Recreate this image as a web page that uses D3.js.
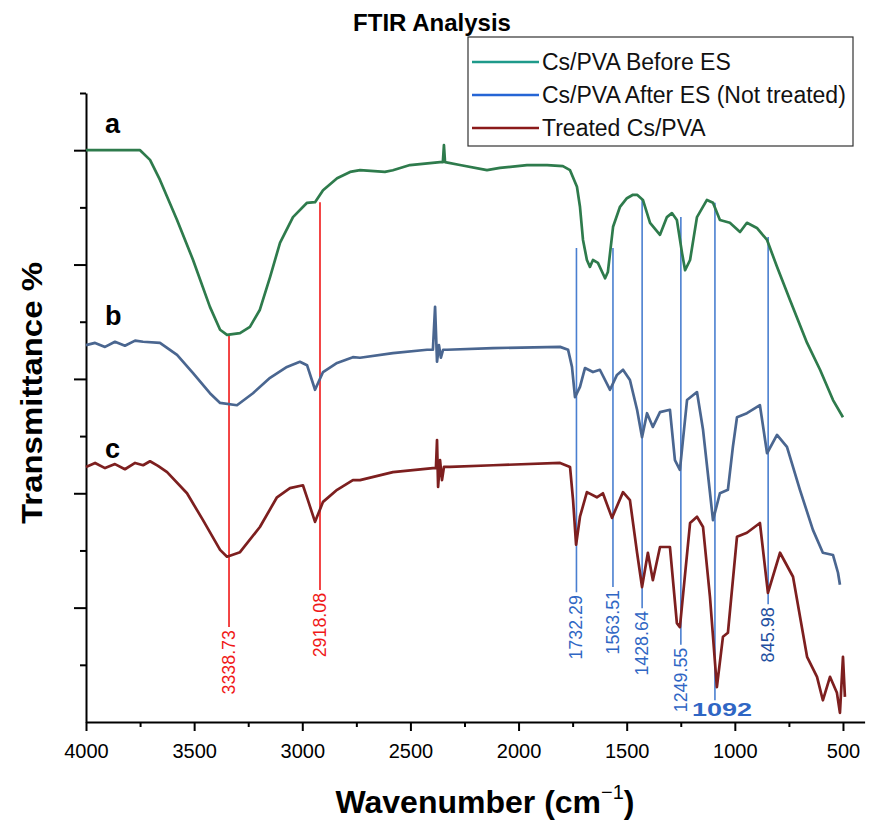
<!DOCTYPE html>
<html>
<head>
<meta charset="utf-8">
<script src="https://cdn.jsdelivr.net/npm/d3@7"></script>
<style>
  body { margin: 0; background: #fff; }
  text { font-family: "Liberation Sans", Arial, sans-serif; }
</style>
</head>
<body>
<div id="chart"></div>
<script>
// spectra as [wavenumber, transmittance] (arbitrary offset units)
const curveA = [
  [4000, 100.0], [3750, 100.0], [3704, 98.3], [3658, 94.8], [3579, 87.8], [3505, 80.8],
  [3427, 72.6], [3380, 68.6], [3348, 67.7], [3288, 68.0], [3242, 69.1], [3196, 72.1],
  [3149, 77.8], [3103, 83.8], [3043, 88.3], [2978, 90.8], [2941, 90.9], [2904, 93.0],
  [2839, 95.1], [2779, 96.2], [2733, 96.5], [2618, 96.2], [2581, 96.5], [2502, 97.4],
  [2363, 97.9], [2350, 97.9], [2345, 100.9], [2340, 97.9], [2271, 97.4], [2146, 96.5],
  [2086, 96.9], [1961, 97.4], [1868, 97.4], [1795, 97.2], [1762, 96.5], [1730, 93.6],
  [1716, 90.1], [1702, 84.3], [1684, 80.8], [1670, 79.6], [1656, 80.8], [1633, 80.3],
  [1600, 77.6], [1587, 78.7], [1563, 86.6], [1531, 90.1], [1499, 91.6], [1471, 92.2],
  [1452, 92.2], [1425, 91.3], [1392, 87.3], [1346, 85.2], [1314, 88.3], [1291, 89.0],
  [1268, 87.8], [1244, 82.0], [1230, 79.0], [1207, 80.8], [1175, 88.3], [1129, 91.3],
  [1101, 90.8], [1069, 87.8], [1023, 87.3], [976, 85.7], [944, 87.3], [898, 86.4],
  [851, 84.3], [805, 79.6], [745, 73.8], [666, 66.3], [606, 61.6], [546, 56.3], [500, 53.3]
];

const curveB = [
  [4000, 65.9], [3958, 66.3], [3912, 65.6], [3866, 66.5], [3820, 65.8], [3773, 66.7],
  [3736, 66.5], [3658, 66.3], [3579, 64.2], [3505, 61.0], [3427, 57.5], [3380, 55.8],
  [3302, 55.4], [3228, 57.5], [3149, 60.2], [3071, 62.1], [3011, 63.0], [2978, 62.4],
  [2941, 58.1], [2904, 61.2], [2839, 62.8], [2766, 63.8], [2733, 63.7], [2581, 64.5],
  [2423, 65.1], [2396, 65.1], [2386, 72.6], [2377, 63.0], [2368, 65.9], [2359, 63.7],
  [2349, 65.1], [2331, 65.1], [2118, 65.4], [1808, 65.6], [1771, 65.1], [1753, 62.1],
  [1739, 56.8], [1716, 58.6], [1693, 61.9], [1656, 61.2], [1624, 61.6], [1577, 58.1],
  [1545, 60.7], [1517, 61.6], [1485, 59.8], [1452, 54.6], [1429, 49.8], [1406, 54.0],
  [1379, 51.6], [1346, 54.2], [1300, 54.6], [1277, 45.8], [1254, 44.1], [1221, 56.3],
  [1175, 57.7], [1147, 51.1], [1101, 35.3], [1069, 40.0], [1032, 40.6], [1009, 48.1],
  [990, 53.3], [944, 54.0], [884, 55.4], [851, 47.0], [805, 50.2], [759, 48.1],
  [699, 40.6], [639, 33.6], [593, 29.6], [546, 29.2], [523, 26.1], [514, 24.0]
];

const curveC = [
  [4000, 44.6], [3958, 45.3], [3912, 44.4], [3866, 45.1], [3820, 44.2], [3773, 45.3],
  [3736, 44.9], [3704, 45.6], [3667, 44.8], [3625, 43.7], [3533, 40.0], [3459, 35.3],
  [3380, 30.1], [3348, 28.9], [3288, 29.7], [3196, 34.1], [3117, 39.3], [3057, 40.9],
  [2997, 41.4], [2974, 38.8], [2941, 35.0], [2904, 38.5], [2839, 40.6], [2766, 42.3],
  [2733, 42.3], [2581, 43.7], [2396, 44.4], [2382, 44.4], [2377, 49.3], [2372, 41.1],
  [2363, 45.8], [2354, 42.3], [2345, 44.6], [2317, 44.6], [2118, 44.9], [1808, 45.3],
  [1762, 44.6], [1748, 38.8], [1734, 31.0], [1716, 35.9], [1684, 40.2], [1638, 39.3],
  [1610, 40.0], [1568, 35.7], [1517, 40.2], [1485, 38.8], [1452, 29.6], [1429, 23.6],
  [1402, 29.6], [1379, 24.8], [1346, 30.6], [1300, 30.6], [1268, 17.3], [1254, 16.6],
  [1207, 34.8], [1175, 35.9], [1147, 34.1], [1115, 21.9], [1083, 6.1], [1055, 14.9],
  [1032, 15.6], [990, 32.4], [944, 33.1], [884, 34.8], [847, 22.6], [791, 29.6],
  [731, 25.4], [666, 11.4], [620, 7.9], [593, 3.8], [560, 7.9], [528, 5.1],
  [514, 1.6], [500, 11.4], [491, 4.4]
];

const seriesNames = ['Cs/PVA Before ES', 'Cs/PVA After ES (Not treated)', 'Treated Cs/PVA'];
const curveLetters = ['a', 'b', 'c'];

const xTickValues = [4000, 3500, 3000, 2500, 2000, 1500, 1000, 500];
const xMinorTicks = [3750, 3250, 2750, 2250, 1750, 1250, 750];
const yMajorTicks = [20, 40, 60, 80, 100];
const yMinorTicks = [10, 30, 50, 70, 90, 110];

// peak markers: wavenumber, line top, line bottom (transmittance units)
const redPeaks = [3338.73, 2918.08];
const redPeakTop = [67.7, 90.9];
const redPeakBottom = [16.6, 23.1];
const bluePeaks = [1732.29, 1563.51, 1428.64, 1249.55, 1092, 845.98];
const bluePeakTop = [82.9, 82.9, 91.6, 88.3, 90.8, 84.8];
const bluePeakBottom = [22.7, 23.6, 19.9, 13.5, 3.8, 20.6];

const width = 871;
const height = 830;

const svg = d3.select('#chart')
  .append('svg')
  .attr('width', width)
  .attr('height', height)
  .style('background', '#fff');

const x = d3.scaleLinear().domain([4000, 400]).range([86, 864.6]);
const y = d3.scaleLinear().domain([0, 110]).range([722, 93]);

// axes
const xAxis = svg.append('g')
  .attr('transform', `translate(0,${y(0)})`)
  .call(d3.axisBottom(x).tickValues(xTickValues).tickSize(9).tickSizeOuter(0).tickPadding(13).tickFormat(d3.format('d')));
xAxis.select('.domain').attr('stroke', '#000').attr('stroke-width', 2);
xAxis.selectAll('.tick line').attr('stroke', '#000').attr('stroke-width', 2);
xAxis.selectAll('.tick text')
  .attr('font-size', '20px')
  .attr('font-family', '"Liberation Sans", Arial, sans-serif')
  .attr('fill', '#000');

svg.append('g')
  .attr('transform', `translate(0,${y(0)})`)
  .call(d3.axisBottom(x).tickValues(xMinorTicks).tickSize(5).tickFormat(''))
  .call((g) => g.select('.domain').remove())
  .selectAll('.tick line').attr('stroke', '#000').attr('stroke-width', 2);

const yAxis = svg.append('g')
  .attr('transform', `translate(${x(4000)},0)`)
  .call(d3.axisLeft(y).tickValues(yMajorTicks).tickSize(12).tickSizeOuter(0).tickFormat(''));
yAxis.select('.domain').attr('stroke', '#000').attr('stroke-width', 2);
yAxis.selectAll('.tick line').attr('stroke', '#000').attr('stroke-width', 2);

svg.append('g')
  .attr('transform', `translate(${x(4000)},0)`)
  .call(d3.axisLeft(y).tickValues(yMinorTicks).tickSize(6).tickFormat(''))
  .call((g) => g.select('.domain').remove())
  .selectAll('.tick line').attr('stroke', '#000').attr('stroke-width', 2);

// peak marker lines
svg.selectAll('line.red-peak')
  .data(redPeaks)
  .enter()
  .append('line')
  .attr('class', 'red-peak')
  .attr('x1', (d) => x(d))
  .attr('x2', (d) => x(d))
  .attr('y1', (d, i) => y(redPeakTop[i]))
  .attr('y2', (d, i) => y(redPeakBottom[i]))
  .attr('stroke', '#f01818')
  .attr('stroke-width', 1.6);

svg.selectAll('line.blue-peak')
  .data(bluePeaks)
  .enter()
  .append('line')
  .attr('class', 'blue-peak')
  .attr('x1', (d) => x(d))
  .attr('x2', (d) => x(d))
  .attr('y1', (d, i) => y(bluePeakTop[i]))
  .attr('y2', (d, i) => y(bluePeakBottom[i]))
  .attr('stroke', '#4a7fd0')
  .attr('stroke-width', 1.6);

// spectra
const line = d3.line()
  .x((d) => x(d[0]))
  .y((d) => y(d[1]));

const curveColors = ['#2e7b4c', '#4a6690', '#7d1f1f'];
[curveA, curveB, curveC].forEach((data, i) => {
  svg.append('path')
    .datum(data)
    .attr('fill', 'none')
    .attr('stroke', curveColors[i])
    .attr('stroke-width', 2.7)
    .attr('stroke-linejoin', 'round')
    .attr('d', line);
});

// peak labels (rotated)
const addPeakLabel = (value, bottom, color) => {
  const txt = d3.format('.2f')(value);
  svg.append('text')
    .attr('transform', `translate(${x(value)},${y(bottom) + 3}) rotate(-90)`)
    .attr('text-anchor', 'end')
    .attr('dominant-baseline', 'central')
    .attr('font-size', '18px')
    .attr('textLength', txt.length * 9.2)
    .attr('lengthAdjust', 'spacingAndGlyphs')
    .attr('fill', color)
    .text(txt);
};
redPeaks.forEach((d, i) => addPeakLabel(d, redPeakBottom[i], '#f01818'));
bluePeaks.forEach((d, i) => {
  if (d === 1092) return;
  addPeakLabel(d, bluePeakBottom[i], i === bluePeaks.length - 1 ? '#1f4fa0' : '#2f66c4');
});

svg.append('text')
  .attr('x', x(1092) - 23)
  .attr('y', y(bluePeakBottom[4]) + 16)
  .attr('font-family', '"DejaVu Serif", "Liberation Serif", serif')
  .attr('font-weight', 'bold')
  .attr('font-size', '18px')
  .attr('textLength', 60)
  .attr('lengthAdjust', 'spacingAndGlyphs')
  .attr('fill', '#2f66c4')
  .text('1092');

// curve letters
const letterY = [103.0, 69.4, 46.2];
curveLetters.forEach((d, i) => {
  svg.append('text')
    .attr('x', 105)
    .attr('y', y(letterY[i]))
    .attr('font-size', '27px')
    .attr('font-weight', 'bold')
    .attr('fill', '#000')
    .text(d);
});

// title
svg.append('text')
  .attr('x', 432)
  .attr('y', 31)
  .attr('text-anchor', 'middle')
  .attr('font-size', '24px')
  .attr('font-weight', 'bold')
  .text('FTIR Analysis');

// axis titles
svg.append('text')
  .attr('transform', 'translate(42,393) rotate(-90)')
  .attr('text-anchor', 'middle')
  .attr('font-size', '30px')
  .attr('font-weight', 'bold')
  .attr('textLength', 262)
  .attr('lengthAdjust', 'spacingAndGlyphs')
  .text('Transmittance %');

const xTitle = svg.append('text')
  .attr('x', 485)
  .attr('y', 813)
  .attr('text-anchor', 'middle')
  .attr('font-size', '32px')
  .attr('font-weight', 'bold');
xTitle.append('tspan').text('Wavenumber (cm');
xTitle.append('tspan').attr('font-size', '20px').attr('font-weight', 'normal').attr('dy', -14).text('\u22121');
xTitle.append('tspan').attr('dy', 14).text(')');

// legend
const legend = svg.append('g').attr('transform', 'translate(468,37)');
legend.append('rect')
  .attr('width', 385)
  .attr('height', 109)
  .attr('fill', '#fff')
  .attr('stroke', '#333')
  .attr('stroke-width', 1.2);

const legendColors = ['#1e9a8a', '#2565d5', '#8b1a1a'];
seriesNames.forEach((name, i) => {
  const row = legend.append('g').attr('transform', `translate(0,${25 + i * 33})`);
  row.append('line')
    .attr('x1', 4)
    .attr('x2', 71)
    .attr('stroke', legendColors[i])
    .attr('stroke-width', 2.5);
  row.append('text')
    .attr('x', 74)
    .attr('dy', '0.36em')
    .attr('font-size', '23px')
    .attr('fill', '#111')
    .text(name);
});
</script>
</body>
</html>
